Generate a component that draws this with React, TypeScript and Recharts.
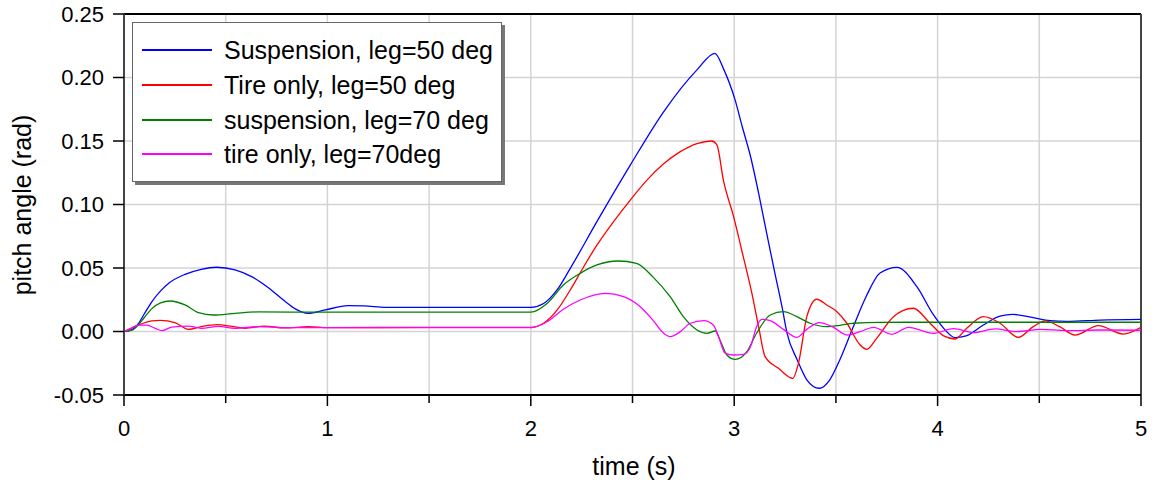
import { LineChart, Line, XAxis, YAxis, CartesianGrid, ReferenceLine, Legend } from 'recharts'

const FONT = '"Liberation Sans", Arial, sans-serif'

// time (s) ticks, labels only on whole seconds
const xTicks = [0, 0.5, 1, 1.5, 2, 2.5, 3, 3.5, 4, 4.5, 5]
const yTicks = [-0.05, 0, 0.05, 0.1, 0.15, 0.2, 0.25]

// [time, pitch angle]
const suspension50: [number, number][] = [
  [0, 0], [0.04, 0.0015], [0.07, 0.006], [0.1, 0.014], [0.135, 0.023], [0.18, 0.032], [0.22, 0.038],
  [0.3, 0.045], [0.38, 0.049], [0.455, 0.0506],
  [0.546, 0.0485], [0.63, 0.043], [0.71, 0.0345], [0.79, 0.024], [0.84, 0.018], [0.905, 0.0143],
  [0.99, 0.017], [1.1, 0.0203], [1.18, 0.0201], [1.29, 0.019], [1.6, 0.019], [2.0, 0.019],
  [2.063, 0.022], [2.129, 0.0327], [2.194, 0.0497], [2.325, 0.0865], [2.489, 0.131], [2.653, 0.173],
  [2.817, 0.206], [2.905, 0.219], [2.947, 0.207], [3.005, 0.182], [3.04, 0.161], [3.08, 0.138],
  [3.12, 0.109], [3.16, 0.077], [3.2, 0.046], [3.235, 0.0195], [3.26, -0.0014], [3.31, -0.0224],
  [3.357, -0.038], [3.418, -0.0447], [3.47, -0.038], [3.52, -0.022], [3.586, 0.004], [3.65, 0.028],
  [3.717, 0.046], [3.8, 0.0505], [3.898, 0.0353], [3.98, 0.013], [4.03, 0.0025], [4.086, -0.0049],
  [4.14, -0.0035], [4.225, 0.0051], [4.307, 0.0122], [4.37, 0.0135], [4.47, 0.0109], [4.553, 0.0085],
  [4.635, 0.008], [4.8, 0.009], [5.0, 0.0096],
]

const tireOnly50: [number, number][] = [
  [0, 0], [0.07, 0.005], [0.137, 0.0083], [0.178, 0.0088], [0.25, 0.007], [0.317, 0.0017], [0.38, 0.0038],
  [0.456, 0.0054], [0.53, 0.0041], [0.595, 0.0025], [0.69, 0.0043], [0.79, 0.0028], [0.907, 0.0038],
  [1.005, 0.003], [1.5, 0.0033], [2.0, 0.0033], [2.063, 0.0065], [2.13, 0.017], [2.194, 0.0327],
  [2.26, 0.051], [2.325, 0.068], [2.407, 0.0865], [2.489, 0.1035], [2.57, 0.119], [2.653, 0.132],
  [2.735, 0.1416], [2.817, 0.148], [2.89, 0.15], [2.915, 0.1469], [2.947, 0.119], [2.997, 0.0904],
  [3.04, 0.062], [3.087, 0.03], [3.12, 0.0038], [3.152, -0.0198], [3.218, -0.029], [3.288, -0.0369],
  [3.316, -0.025], [3.357, 0.0117], [3.406, 0.0254], [3.455, 0.0209], [3.505, 0.0156], [3.554, 0.0065],
  [3.619, -0.0106], [3.652, -0.014], [3.7, -0.0054], [3.783, 0.0117], [3.88, 0.0183], [3.963, 0.0065],
  [4.03, -0.0035], [4.086, -0.0059], [4.143, 0.0025], [4.225, 0.0117], [4.307, 0.0065], [4.397, -0.0046],
  [4.47, 0.0038], [4.53, 0.0083], [4.6, 0.0038], [4.676, -0.0028], [4.79, 0.0046], [4.913, -0.002],
  [5.0, 0.0033],
]

const suspension70: [number, number][] = [
  [0, 0], [0.04, 0.001], [0.07, 0.005], [0.1, 0.011], [0.137, 0.018], [0.18, 0.0225], [0.227, 0.024],
  [0.3, 0.0209], [0.366, 0.0148],
  [0.44, 0.013], [0.546, 0.0143], [0.66, 0.0154], [1.0, 0.0152], [2.0, 0.0152], [2.08, 0.022],
  [2.16, 0.0366], [2.243, 0.0458], [2.325, 0.0524], [2.43, 0.0555], [2.52, 0.0537], [2.6, 0.043],
  [2.685, 0.0274], [2.75, 0.0117], [2.817, 0.0012], [2.866, -0.0014], [2.907, 0.0004], [2.93, -0.0067],
  [2.964, -0.0185], [3.005, -0.022], [3.062, -0.0159], [3.11, -0.0014], [3.177, 0.013], [3.242, 0.0156],
  [3.308, 0.0117], [3.373, 0.0065], [3.455, 0.0038], [3.52, 0.0049], [3.586, 0.0065], [3.717, 0.0072],
  [4.0, 0.0073], [4.5, 0.0073], [5.0, 0.0073],
]

const tireOnly70: [number, number][] = [
  [0, 0], [0.022, 0.0012], [0.07, 0.005], [0.112, 0.005], [0.153, 0.0025], [0.186, 0.0007], [0.235, 0.0035],
  [0.317, 0.0043], [0.38, 0.0025], [0.464, 0.0041], [0.546, 0.0025], [0.66, 0.0038], [0.8, 0.003],
  [1.0, 0.003], [2.0, 0.003], [2.08, 0.0077], [2.16, 0.0175], [2.243, 0.0248], [2.366, 0.03],
  [2.456, 0.0274], [2.538, 0.0195], [2.6, 0.009], [2.653, -0.0014], [2.685, -0.004], [2.735, -0.0001],
  [2.784, 0.0065], [2.85, 0.0085], [2.898, 0.005], [2.923, -0.004], [2.955, -0.017], [2.997, -0.0185],
  [3.046, -0.018], [3.08, -0.012], [3.11, 0.0038], [3.136, 0.0096], [3.177, 0.0085], [3.242, 0.0017],
  [3.308, -0.0046], [3.357, 0.0017], [3.42, 0.007], [3.488, 0.0033], [3.554, -0.0028], [3.619, -0.0001],
  [3.685, 0.0033], [3.775, -0.0022], [3.857, 0.0033], [3.98, -0.0014], [4.078, 0.0022], [4.176, -0.0009],
  [4.282, 0.002], [4.39, -0.0001], [4.504, 0.0017], [4.635, 0.0007], [4.8, 0.0012], [5.0, 0.001],
]

const series = [
  { name: 'Suspension, leg=50 deg', color: '#0000ff', points: suspension50 },
  { name: 'Tire only, leg=50 deg', color: '#ff0000', points: tireOnly50 },
  { name: 'suspension, leg=70 deg', color: '#008000', points: suspension70 },
  { name: 'tire only, leg=70deg', color: '#ff00ff', points: tireOnly70 },
]

const toRows = (pts: [number, number][]) => pts.map(([t, v]) => ({ t, v }))

function XTick({ x, y, payload }: any) {
  const major = Number.isInteger(payload.value)
  return (
    <g>
      <line x1={x} x2={x} y1={y} y2={y + (major ? 11 : 8)} stroke="#000" strokeWidth={1.5} />
      {major && (
        <text x={x} y={y + 41} textAnchor="middle" fontSize={22} fontFamily={FONT} fill="#000">
          {payload.value}
        </text>
      )}
    </g>
  )
}

function LegendBox() {
  return (
    <div style={{
      width: 368, height: 158, background: '#fff', border: '1.5px solid #666',
      boxShadow: '3px 3px 0 #777', position: 'relative', fontFamily: FONT, fontSize: 25,
    }}>
      {series.map((s, i) => (
        <div key={s.name} style={{
          position: 'absolute', left: 0, top: Math.round(9 + i * 34.8), height: 36,
          display: 'flex', alignItems: 'center', whiteSpace: 'nowrap',
        }}>
          <div style={{ width: 70, height: 2, background: s.color, marginLeft: 9 }} />
          <span style={{ marginLeft: 12, color: '#000' }}>{s.name}</span>
        </div>
      ))}
    </div>
  )
}

export default function App() {
  return (
    <div style={{ position: 'absolute', left: 0, top: 0 }}>
      <LineChart width={1156} height={482} margin={{ top: 14, right: 15, bottom: 0, left: 0 }}>
        <CartesianGrid stroke="#d4d4d4" strokeWidth={1.5} />
        <XAxis
          dataKey="t" type="number" domain={[0, 5]} ticks={xTicks} allowDataOverflow
          height={87} tickLine={false} tickSize={0} tickMargin={0} tick={<XTick />}
          axisLine={{ stroke: '#000', strokeWidth: 2 }}
          label={() => (
            <text x={634} y={475} textAnchor="middle" fontSize={25} fontFamily={FONT} fill="#000">time (s)</text>
          )}
        />
        <YAxis
          type="number" domain={[-0.05, 0.25]} ticks={yTicks} allowDataOverflow width={124}
          tickSize={11} tickMargin={9} tickFormatter={(v: number) => v.toFixed(2)}
          tick={{ fontSize: 22, fill: '#000', fontFamily: FONT }}
          tickLine={{ stroke: '#000', strokeWidth: 1.5 }}
          axisLine={{ stroke: '#444', strokeWidth: 2 }}
          label={() => (
            <text x={22} y={205} transform="rotate(-90 22 205)" textAnchor="middle" dominantBaseline="central"
              fontSize={25} fontFamily={FONT} fill="#000">pitch angle (rad)</text>
          )}
        />
        <ReferenceLine y={0.25} stroke="#000" strokeWidth={2} />
        <ReferenceLine x={5} stroke="#444" strokeWidth={2} />
        {series.map((s) => (
          <Line key={s.name} name={s.name} data={toRows(s.points)} dataKey="v" type="monotone"
            stroke={s.color} strokeWidth={1.3} dot={false} isAnimationActive={false} />
        ))}
        <Legend layout="vertical" align="center" verticalAlign="middle" content={<LegendBox />}
          wrapperStyle={{ left: 132, top: 22, width: 372, height: 162 }} />
      </LineChart>
    </div>
  )
}
